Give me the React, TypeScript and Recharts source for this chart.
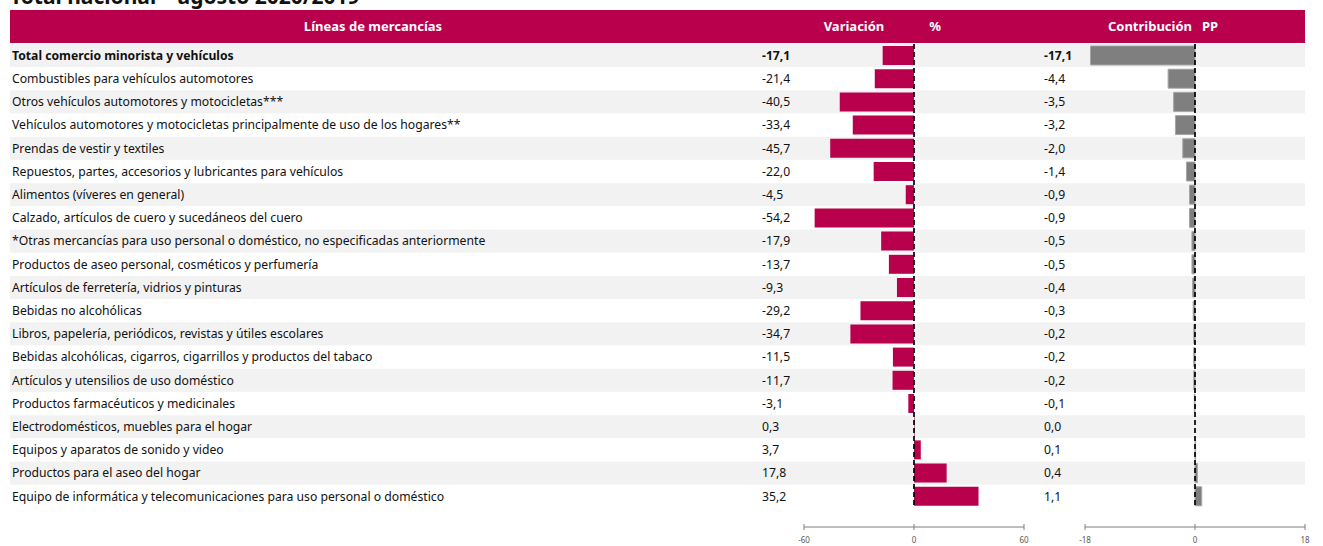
import React from "react";
import { BarChart, Bar, XAxis, YAxis, ReferenceLine } from "recharts";

const categories = [
  "Total comercio minorista y vehículos",
  "Combustibles para vehículos automotores",
  "Otros vehículos automotores y motocicletas***",
  "Vehículos automotores y motocicletas principalmente de uso de los hogares**",
  "Prendas de vestir y textiles",
  "Repuestos, partes, accesorios y lubricantes para vehículos",
  "Alimentos (víveres en general)",
  "Calzado, artículos de cuero y sucedáneos del cuero",
  "*Otras mercancías para uso personal o doméstico, no especificadas anteriormente",
  "Productos de aseo personal, cosméticos y perfumería",
  "Artículos de ferretería, vidrios y pinturas",
  "Bebidas no alcohólicas",
  "Libros, papelería, periódicos, revistas y útiles escolares",
  "Bebidas alcohólicas, cigarros, cigarrillos y productos del tabaco",
  "Artículos y utensilios de uso doméstico",
  "Productos farmacéuticos y medicinales",
  "Electrodomésticos, muebles para el hogar",
  "Equipos y aparatos de sonido y video",
  "Productos para el aseo del hogar",
  "Equipo de informática y telecomunicaciones para uso personal o doméstico",
];

const variation = [
  -17.1, -21.4, -40.5, -33.4, -45.7, -22.0, -4.5, -54.2, -17.9, -13.7,
  -9.3, -29.2, -34.7, -11.5, -11.7, -3.1, 0.3, 3.7, 17.8, 35.2,
];

const contribution = [
  -17.1, -4.4, -3.5, -3.2, -2.0, -1.4, -0.9, -0.9, -0.5, -0.5,
  -0.4, -0.3, -0.2, -0.2, -0.2, -0.1, 0.0, 0.1, 0.4, 1.1,
];

const variationTicks = [-60, 0, 60];
const contributionTicks = [-18, 0, 18];

const rows = categories.map((name, i) => ({
  name,
  variation: variation[i],
  contribution: contribution[i],
}));

const W = 1323;
const H = 546;
const TOP = 44;
const AXIS_Y = 527;
const PAD = 19;
const XAXIS_H = 19;
const BAR_H = 19;
const CRIMSON = "#B8004C";
const GREY = "#7F7F7F";
const FONT = "'Noto Sans', 'Open Sans', sans-serif";

const fmt = (v: number) => v.toFixed(1).replace(".", ",");

// one table row: stripe + name + the two value columns
function TableRow(props: any) {
  const { x, y, width, height, index } = props;
  const row = rows[index];
  if (!row) return null;
  const cy = y + height / 2;
  const bold = index === 0 ? 700 : 400;
  const common = { y: cy, dy: "0.35em", fontSize: 12.2, fontWeight: bold, fill: "#111", fontFamily: FONT };
  return (
    <g>
      {index % 2 === 0 && <rect x={x} y={y} width={width} height={height} fill="#F2F2F2" />}
      <text x={12} {...common}>{row.name}</text>
      <text x={762} {...common}>{fmt(row.variation)}</text>
      <text x={1044} {...common}>{fmt(row.contribution)}</text>
    </g>
  );
}

function AxisTick(props: any) {
  const { x, y, payload } = props;
  const axisY = y - 8;
  return (
    <g>
      <line x1={x} x2={x} y1={axisY - 3} y2={axisY + 3} stroke="#7F7F7F" />
      <text x={x} y={axisY + 10} dy="0.71em" textAnchor="middle" fontSize={8} fill="#595959" fontFamily={FONT}>
        {payload.value}
      </text>
    </g>
  );
}

function ZeroLine(props: any) {
  const { x1, x2, y1, y2 } = props;
  const top = Math.min(y1, y2);
  const bottom = Math.max(y1, y2) - PAD;
  return (
    <line x1={x1} x2={x2} y1={top} y2={bottom} stroke="#000" strokeWidth={1.7} strokeDasharray="5 3" />
  );
}

const layer: React.CSSProperties = { position: "absolute", left: 0, top: 0 };

function HeaderLabel({ x, text }: { x: number; text: string }) {
  return (
    <span
      style={{
        position: "absolute",
        left: x,
        top: 0,
        lineHeight: "33px",
        transform: "translateX(-50%)",
        whiteSpace: "nowrap",
      }}
    >
      {text}
    </span>
  );
}

export default function App() {
  return (
    <div style={{ position: "absolute", left: 0, top: 0, width: W, height: H, background: "#fff", overflow: "hidden", fontFamily: FONT }}>
      <div
        style={{
          position: "absolute",
          left: 10,
          top: -15,
          fontSize: 21,
          fontWeight: 700,
          lineHeight: "22px",
          color: "#111",
          whiteSpace: "nowrap",
        }}
      >
        Total nacional – agosto 2020/2019
      </div>
      <div
        style={{
          position: "absolute",
          left: 10,
          top: 10,
          width: 1295,
          height: 33,
          background: CRIMSON,
          color: "#fff",
          fontWeight: 700,
          fontSize: 13,
        }}
      >
        <HeaderLabel x={363} text="Líneas de mercancías" />
        <HeaderLabel x={844} text="Variación" />
        <HeaderLabel x={925} text="%" />
        <HeaderLabel x={1140} text="Contribución" />
        <HeaderLabel x={1200} text="PP" />
      </div>

      <div style={layer}>
        <BarChart
          width={W}
          height={H}
          data={rows}
          layout="vertical"
          barCategoryGap={0}
          margin={{ top: TOP, right: W - 1305, bottom: H - AXIS_Y, left: 10 }}
        >
          <XAxis type="number" hide domain={[-60, 60]} />
          <YAxis type="category" dataKey="name" hide padding={{ top: 0, bottom: PAD }} />
          <Bar
            dataKey="variation"
            fill="none"
            isAnimationActive={false}
            background={(p: any) => <TableRow key={`r-${p.index}`} {...p} />}
          />
        </BarChart>
      </div>

      <div style={layer}>
        <BarChart
          width={W}
          height={H}
          data={rows}
          layout="vertical"
          margin={{ top: TOP, right: W - 1024, bottom: H - AXIS_Y - XAXIS_H, left: 804 }}
        >
          <XAxis
            type="number"
            domain={[-60, 60]}
            ticks={variationTicks}
            height={XAXIS_H}
            tickSize={6}
            tickMargin={2}
            tickLine={false}
            axisLine={{ stroke: "#7F7F7F" }}
            tick={<AxisTick />}
          />
          <YAxis type="category" dataKey="name" hide padding={{ top: 0, bottom: PAD }} />
          <Bar dataKey="variation" fill={CRIMSON} barSize={BAR_H} isAnimationActive={false} />
          <ReferenceLine x={0} shape={(p: any) => <ZeroLine {...p} />} />
        </BarChart>
      </div>

      <div style={layer}>
        <BarChart
          width={W}
          height={H}
          data={rows}
          layout="vertical"
          margin={{ top: TOP, right: W - 1305, bottom: H - AXIS_Y - XAXIS_H, left: 1085 }}
        >
          <XAxis
            type="number"
            domain={[-18, 18]}
            ticks={contributionTicks}
            height={XAXIS_H}
            tickSize={6}
            tickMargin={2}
            tickLine={false}
            axisLine={{ stroke: "#7F7F7F" }}
            tick={<AxisTick />}
          />
          <YAxis type="category" dataKey="name" hide padding={{ top: 0, bottom: PAD }} />
          <Bar
            dataKey="contribution"
            fill={GREY}
            stroke="#A6A6A6"
            strokeWidth={1}
            barSize={BAR_H}
            isAnimationActive={false}
          />
          <ReferenceLine x={0} shape={(p: any) => <ZeroLine {...p} />} />
        </BarChart>
      </div>
    </div>
  );
}
